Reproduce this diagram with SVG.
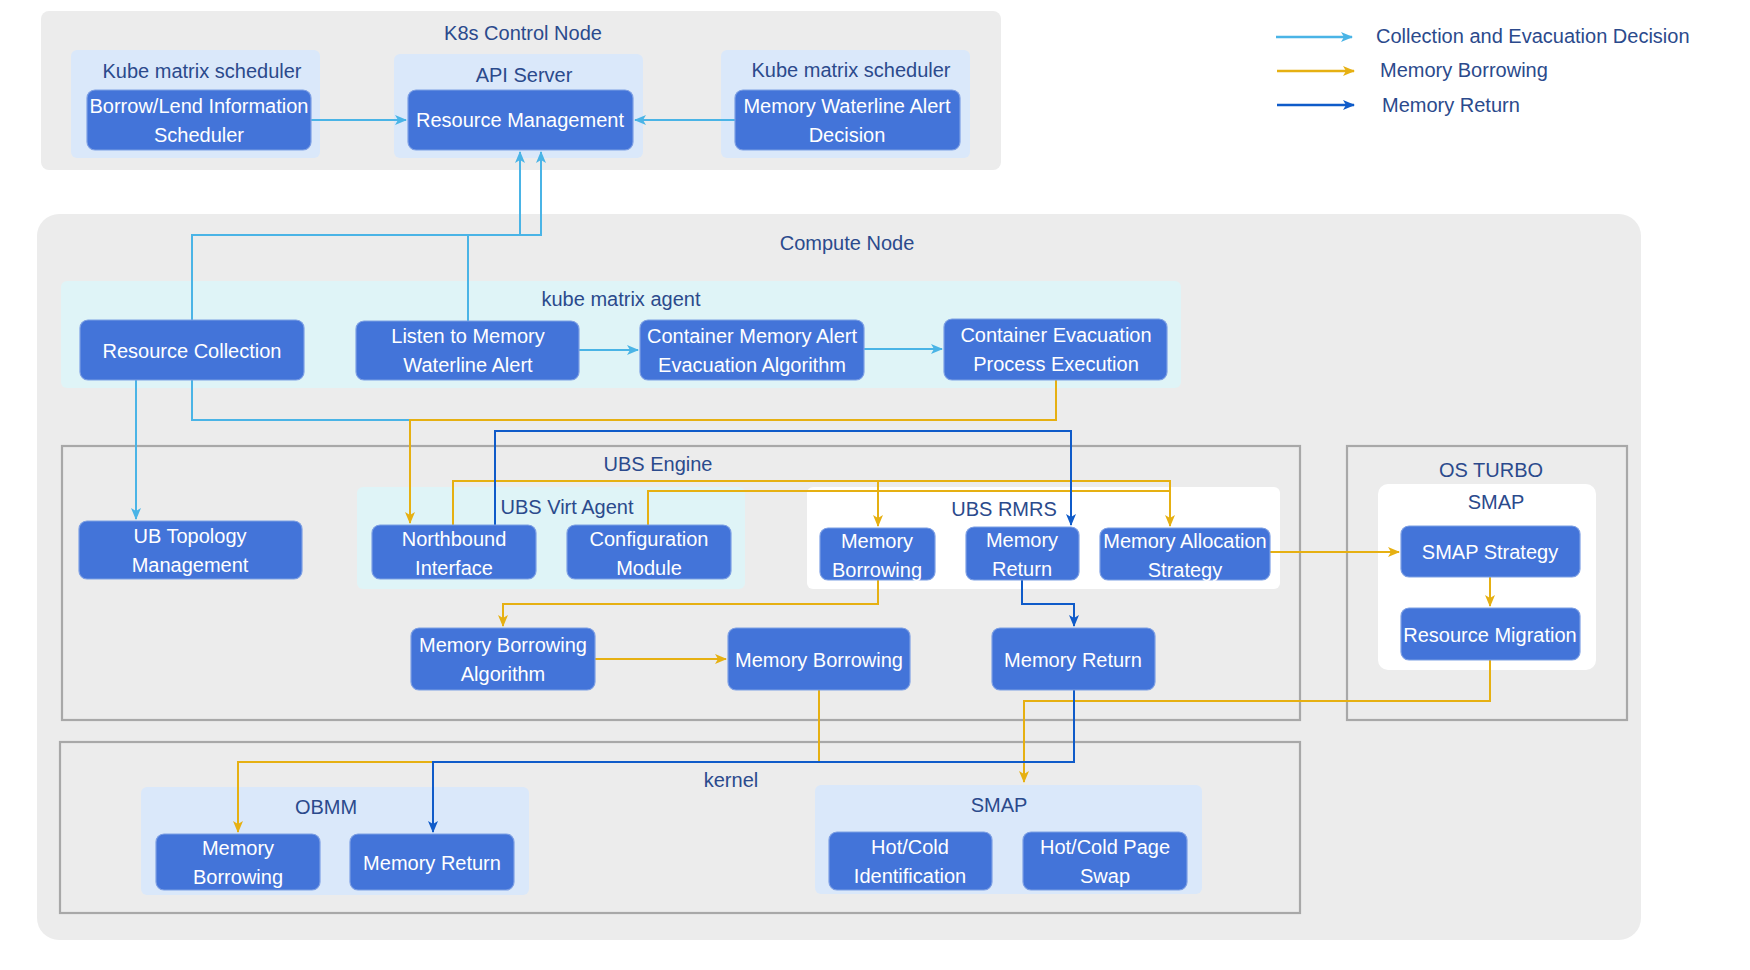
<svg xmlns="http://www.w3.org/2000/svg" width="1750" height="970" viewBox="0 0 1750 970">
  <style>
    text { font-family: "Liberation Sans", Arial, sans-serif; font-size: 20px; dominant-baseline: central; text-anchor: middle; }
    .lbl { fill: #2b4a8c; }
    .nt { fill: #ffffff; }
    .node { fill: #4374d9; stroke: #7d9fe4; stroke-width: 1.2; }
    .grp { fill: #ececec; }
    .sub { fill: #dae8fa; }
    .cyan { fill: #dff4f7; }
    .white { fill: #ffffff; }
    .frame { fill: none; stroke: #a8a8a8; stroke-width: 2.2; }
    .c-col { fill: none; stroke: #4ab4e6; stroke-width: 2; }
    .c-bor { fill: none; stroke: #e6b012; stroke-width: 2; }
    .c-ret { fill: none; stroke: #0f5bc9; stroke-width: 2; }
  </style>
  <defs>
    <marker id="a-col" viewBox="0 0 12 12" refX="11" refY="6" markerWidth="12" markerHeight="12" markerUnits="userSpaceOnUse" orient="auto">
      <path d="M0,1 L12,6 L0,11 L3,6 z" fill="#4ab4e6"/>
    </marker>
    <marker id="a-bor" viewBox="0 0 12 12" refX="11" refY="6" markerWidth="12" markerHeight="12" markerUnits="userSpaceOnUse" orient="auto">
      <path d="M0,1 L12,6 L0,11 L3,6 z" fill="#e6b012"/>
    </marker>
    <marker id="a-ret" viewBox="0 0 12 12" refX="11" refY="6" markerWidth="12" markerHeight="12" markerUnits="userSpaceOnUse" orient="auto">
      <path d="M0,1 L12,6 L0,11 L3,6 z" fill="#0f5bc9"/>
    </marker>
  </defs>

  <rect width="1750" height="970" fill="#ffffff"/>

  <!-- Containers -->
  <g id="k8s-control-node">
    <rect class="grp" x="41" y="11" width="960" height="159" rx="8"/>
    <text class="lbl" x="523" y="33">K8s Control Node</text>
    <rect class="sub" x="71" y="50" width="249" height="108" rx="6"/>
    <text class="lbl" x="202" y="71">Kube matrix scheduler</text>
    <rect class="sub" x="394" y="54" width="249" height="104" rx="6"/>
    <text class="lbl" x="524" y="75">API Server</text>
    <rect class="sub" x="721" y="50" width="249" height="108" rx="6"/>
    <text class="lbl" x="851" y="70">Kube matrix scheduler</text>
  </g>

  <g id="compute-node">
    <rect class="grp" x="37" y="214" width="1604" height="726" rx="22"/>
    <text class="lbl" x="847" y="243">Compute Node</text>
    <rect class="cyan" x="61" y="281" width="1120" height="107" rx="6"/>
    <text class="lbl" x="621" y="299">kube matrix agent</text>
  </g>

  <g id="ubs-engine">
    <rect class="frame" x="62" y="446" width="1238" height="274"/>
    <text class="lbl" x="658" y="464">UBS Engine</text>
    <rect class="cyan" x="357" y="487" width="388" height="102" rx="6"/>
    <text class="lbl" x="567" y="507">UBS Virt Agent</text>
    <rect class="white" x="807" y="487" width="473" height="102" rx="6"/>
    <text class="lbl" x="1004" y="509">UBS RMRS</text>
  </g>

  <g id="os-turbo">
    <rect class="frame" x="1347" y="446" width="280" height="274"/>
    <text class="lbl" x="1491" y="470">OS TURBO</text>
    <rect class="white" x="1378" y="484" width="218" height="186" rx="10"/>
    <text class="lbl" x="1496" y="502">SMAP</text>
  </g>

  <g id="kernel">
    <rect class="frame" x="60" y="742" width="1240" height="171"/>
    <text class="lbl" x="731" y="780">kernel</text>
    <rect class="sub" x="141" y="787" width="388" height="108" rx="6"/>
    <text class="lbl" x="326" y="807">OBMM</text>
    <rect class="sub" x="815" y="785" width="387" height="109" rx="6"/>
    <text class="lbl" x="999" y="805">SMAP</text>
  </g>

  <!-- Connectors -->
  <g id="connectors">
    <!-- collection and evacuation decision -->
    <path class="c-col" d="M311,120 H406" marker-end="url(#a-col)"/>
    <path class="c-col" d="M735,120 H635" marker-end="url(#a-col)"/>
    <path class="c-col" d="M192,320 V235 H541 V152" marker-end="url(#a-col)"/>
    <path class="c-col" d="M468,321 V235 H520 V152" marker-end="url(#a-col)"/>
    <path class="c-col" d="M579,350 H638" marker-end="url(#a-col)"/>
    <path class="c-col" d="M864,349 H942" marker-end="url(#a-col)"/>
    <path class="c-col" d="M136,380 V519" marker-end="url(#a-col)"/>
    <path class="c-col" d="M192,380 V420 H410"/>
    <!-- memory borrowing -->
    <path class="c-bor" d="M1056,380 V420 H410 V523" marker-end="url(#a-bor)"/>
    <path class="c-bor" d="M453,525 V481 H1170 V526" marker-end="url(#a-bor)"/>
    <path class="c-bor" d="M878,481 V526" marker-end="url(#a-bor)"/>
    <path class="c-bor" d="M648,525 V491 H1170"/>
    <path class="c-bor" d="M878,580 V604 H503 V626" marker-end="url(#a-bor)"/>
    <path class="c-bor" d="M595,659 H726" marker-end="url(#a-bor)"/>
    <path class="c-bor" d="M1270,552 H1399" marker-end="url(#a-bor)"/>
    <path class="c-bor" d="M1490,577 V606" marker-end="url(#a-bor)"/>
    <path class="c-bor" d="M1490,660 V701 H1024 V782" marker-end="url(#a-bor)"/>
    <path class="c-bor" d="M819,690 V762 H238 V832" marker-end="url(#a-bor)"/>
    <!-- memory return -->
    <path class="c-ret" d="M495,525 V431 H1071 V525" marker-end="url(#a-ret)"/>
    <path class="c-ret" d="M1022,580 V604 H1074 V626" marker-end="url(#a-ret)"/>
    <path class="c-ret" d="M1074,690 V762 H433 V832" marker-end="url(#a-ret)"/>
  </g>

  <!-- Nodes -->
  <g id="borrow-lend-scheduler">
    <rect class="node" x="87" y="90" width="224" height="60" rx="8"/>
    <text class="nt" x="199" y="106">Borrow/Lend Information</text>
    <text class="nt" x="199" y="135">Scheduler</text>
  </g>
  <g id="resource-management">
    <rect class="node" x="408" y="90" width="225" height="60" rx="8"/>
    <text class="nt" x="520" y="120">Resource Management</text>
  </g>
  <g id="waterline-alert-decision">
    <rect class="node" x="735" y="90" width="225" height="60" rx="8"/>
    <text class="nt" x="847" y="106">Memory Waterline Alert</text>
    <text class="nt" x="847" y="135">Decision</text>
  </g>

  <g id="resource-collection">
    <rect class="node" x="80" y="320" width="224" height="60" rx="8"/>
    <text class="nt" x="192" y="351">Resource Collection</text>
  </g>
  <g id="listen-waterline-alert">
    <rect class="node" x="356" y="321" width="223" height="59" rx="8"/>
    <text class="nt" x="468" y="336">Listen to Memory</text>
    <text class="nt" x="468" y="365">Waterline Alert</text>
  </g>
  <g id="evacuation-algorithm">
    <rect class="node" x="640" y="320" width="224" height="60" rx="8"/>
    <text class="nt" x="752" y="336">Container Memory Alert</text>
    <text class="nt" x="752" y="365">Evacuation Algorithm</text>
  </g>
  <g id="evacuation-execution">
    <rect class="node" x="944" y="319" width="223" height="61" rx="8"/>
    <text class="nt" x="1056" y="335">Container Evacuation</text>
    <text class="nt" x="1056" y="364">Process Execution</text>
  </g>

  <g id="ub-topology">
    <rect class="node" x="79" y="521" width="223" height="58" rx="8"/>
    <text class="nt" x="190" y="536">UB Topology</text>
    <text class="nt" x="190" y="565">Management</text>
  </g>
  <g id="northbound-interface">
    <rect class="node" x="372" y="525" width="164" height="54" rx="8"/>
    <text class="nt" x="454" y="539">Northbound</text>
    <text class="nt" x="454" y="568">Interface</text>
  </g>
  <g id="configuration-module">
    <rect class="node" x="567" y="525" width="164" height="54" rx="8"/>
    <text class="nt" x="649" y="539">Configuration</text>
    <text class="nt" x="649" y="568">Module</text>
  </g>
  <g id="rmrs-memory-borrowing">
    <rect class="node" x="820" y="528" width="115" height="52" rx="8"/>
    <text class="nt" x="877" y="541">Memory</text>
    <text class="nt" x="877" y="570">Borrowing</text>
  </g>
  <g id="rmrs-memory-return">
    <rect class="node" x="966" y="527" width="113" height="53" rx="8"/>
    <text class="nt" x="1022" y="540">Memory</text>
    <text class="nt" x="1022" y="569">Return</text>
  </g>
  <g id="memory-allocation-strategy">
    <rect class="node" x="1100" y="528" width="170" height="52" rx="8"/>
    <text class="nt" x="1185" y="541">Memory Allocation</text>
    <text class="nt" x="1185" y="570">Strategy</text>
  </g>
  <g id="borrowing-algorithm">
    <rect class="node" x="411" y="628" width="184" height="62" rx="8"/>
    <text class="nt" x="503" y="645">Memory Borrowing</text>
    <text class="nt" x="503" y="674">Algorithm</text>
  </g>
  <g id="engine-memory-borrowing">
    <rect class="node" x="728" y="628" width="182" height="62" rx="8"/>
    <text class="nt" x="819" y="660">Memory Borrowing</text>
  </g>
  <g id="engine-memory-return">
    <rect class="node" x="992" y="628" width="163" height="62" rx="8"/>
    <text class="nt" x="1073" y="660">Memory Return</text>
  </g>

  <g id="smap-strategy">
    <rect class="node" x="1401" y="526" width="179" height="51" rx="8"/>
    <text class="nt" x="1490" y="552">SMAP Strategy</text>
  </g>
  <g id="resource-migration">
    <rect class="node" x="1401" y="608" width="179" height="52" rx="8"/>
    <text class="nt" x="1490" y="635">Resource Migration</text>
  </g>

  <g id="obmm-memory-borrowing">
    <rect class="node" x="156" y="834" width="164" height="56" rx="8"/>
    <text class="nt" x="238" y="848">Memory</text>
    <text class="nt" x="238" y="877">Borrowing</text>
  </g>
  <g id="obmm-memory-return">
    <rect class="node" x="350" y="834" width="164" height="56" rx="8"/>
    <text class="nt" x="432" y="863">Memory Return</text>
  </g>
  <g id="hot-cold-identification">
    <rect class="node" x="829" y="832" width="163" height="58" rx="8"/>
    <text class="nt" x="910" y="847">Hot/Cold</text>
    <text class="nt" x="910" y="876">Identification</text>
  </g>
  <g id="hot-cold-page-swap">
    <rect class="node" x="1023" y="832" width="164" height="58" rx="8"/>
    <text class="nt" x="1105" y="847">Hot/Cold Page</text>
    <text class="nt" x="1105" y="876">Swap</text>
  </g>

  <!-- Legend -->
  <g id="legend">
    <path d="M1276,37 H1352" stroke="#4ab4e6" stroke-width="2.5" fill="none" marker-end="url(#a-col)"/>
    <text class="lbl" x="1376" y="36" style="text-anchor:start">Collection and Evacuation Decision</text>
    <path d="M1277,71 H1354" stroke="#e6b012" stroke-width="2.5" fill="none" marker-end="url(#a-bor)"/>
    <text class="lbl" x="1380" y="70" style="text-anchor:start">Memory Borrowing</text>
    <path d="M1277,105 H1354" stroke="#0f5bc9" stroke-width="2.5" fill="none" marker-end="url(#a-ret)"/>
    <text class="lbl" x="1382" y="105" style="text-anchor:start">Memory Return</text>
  </g>
</svg>
